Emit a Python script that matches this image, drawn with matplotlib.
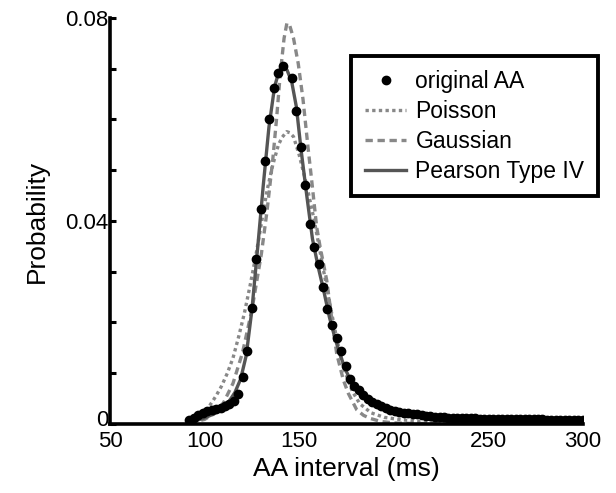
import numpy as np
import matplotlib
matplotlib.use("Agg")
import matplotlib.pyplot as plt
import matplotlib.transforms as mtransforms

plt.rcParams['font.family'] = ['Liberation Sans', 'DejaVu Sans']

# original AA histogram (dots)
aa_x = [91.9, 94.3, 96.6, 99.0, 101.4, 103.7, 106.1, 108.5, 110.8, 113.1,
        115.5, 117.8, 120.3, 122.6, 124.9, 127.2, 129.6, 131.9, 134.2, 136.7,
        139.0, 141.6, 146.0, 148.3, 150.7, 153.1, 155.7, 157.8, 160.3, 162.6,
        164.9, 167.4, 169.8, 172.1, 174.5, 176.8, 179.2, 181.6, 183.9, 186.3,
        188.7, 191.0, 193.4, 195.8, 198.1, 200.5, 202.9, 205.2, 207.6, 210.0,
        212.3, 214.7, 217.1, 219.4, 221.8, 224.2, 226.5, 228.9, 231.3, 233.6,
        236.0, 238.4, 240.7, 243.1, 245.5, 247.8, 250.2, 252.6, 254.9, 257.3,
        259.7, 262.0, 264.4, 266.8, 269.1, 271.5, 273.9, 276.2, 278.6, 281.0,
        283.3, 285.7, 288.1, 290.4, 292.8, 295.2, 297.5, 299.9]
aa_y = [0.0007, 0.0012, 0.0018, 0.0022, 0.0025, 0.0028, 0.0030, 0.0032, 0.0036, 0.0040,
        0.0046, 0.0060, 0.0092, 0.0144, 0.0228, 0.0326, 0.0424, 0.0518, 0.0600, 0.0662,
        0.0691, 0.0705, 0.0682, 0.0617, 0.0545, 0.0470, 0.0395, 0.0348, 0.0315, 0.0269,
        0.0227, 0.0195, 0.0169, 0.0144, 0.0115, 0.0088, 0.0075, 0.0066, 0.0057, 0.0049,
        0.0044, 0.0039, 0.0035, 0.0031, 0.0028, 0.0026, 0.0024, 0.0022, 0.0021, 0.0020,
        0.0019, 0.0017, 0.0016, 0.0015, 0.0014, 0.0014, 0.0013, 0.0012, 0.0012, 0.0012,
        0.0011, 0.0011, 0.0011, 0.0011, 0.0010, 0.0010, 0.0010, 0.0010, 0.0010, 0.0010,
        0.0009, 0.0009, 0.0009, 0.0009, 0.0009, 0.0009, 0.0009, 0.0009, 0.0009, 0.0008,
        0.0008, 0.0008, 0.0008, 0.0008, 0.0008, 0.0008, 0.0008, 0.0008]

# Poisson fit (dotted)
poi_x = [92, 95, 100, 103, 106, 109, 112, 115, 118, 121, 124, 127, 130, 133, 136,
         139, 141, 143.4, 145, 147, 150, 154, 158, 162, 166, 170, 174, 178, 182,
         188, 195, 205, 220, 300]
poi_y = [0.0003, 0.0008, 0.0025, 0.0038, 0.0055, 0.0075, 0.0100, 0.0130, 0.0172, 0.0218,
         0.0272, 0.0330, 0.0395, 0.0460, 0.0510, 0.0550, 0.0565, 0.0576, 0.0574, 0.0566,
         0.0530, 0.0470, 0.0400, 0.0320, 0.0240, 0.0165, 0.0105, 0.0065, 0.0040,
         0.0022, 0.0013, 0.0008, 0.0003, 0.0]

# Gaussian fit (dashed)
gau_x = [92, 100, 105, 110, 115, 120, 125, 130, 133, 136, 138, 140, 142, 143.5,
         145, 147, 149.5, 152, 154.8, 156.6, 159.2, 161, 164.5, 167.1, 169.8, 173.3,
         176, 180.4, 184, 187.5, 193, 200, 210, 300]
gau_y = [0.0002, 0.0009, 0.0020, 0.0042, 0.0080, 0.0140, 0.0225, 0.0335, 0.0420, 0.0520,
         0.0600, 0.0690, 0.0760, 0.0790, 0.0785, 0.0760, 0.0710, 0.0640, 0.0540, 0.0480,
         0.0389, 0.0350, 0.0284, 0.0211, 0.0139, 0.0087, 0.0060, 0.0028, 0.0017,
         0.0011, 0.0005, 0.0002, 0.0001, 0.0]

# Pearson Type IV fit (solid)
pea_x = [92, 100, 105, 110, 113, 116, 119, 122, 125, 128, 131, 134, 137, 139.5,
         141.5, 143.5, 146, 148.5, 151, 154, 157, 160, 163, 166, 169, 172, 175,
         178, 182, 186, 192, 200, 210, 225, 250, 300]
pea_y = [0.0003, 0.0012, 0.0020, 0.0032, 0.0045, 0.0062, 0.0088, 0.0135, 0.0225, 0.0345,
         0.0470, 0.0585, 0.0665, 0.0697, 0.0705, 0.0698, 0.0675, 0.0625, 0.0540, 0.0450,
         0.0365, 0.0310, 0.0262, 0.0210, 0.0168, 0.0132, 0.0103, 0.0079, 0.0059,
         0.0046, 0.0033, 0.0024, 0.0017, 0.0011, 0.0007, 0.0004]

fig = plt.figure(figsize=(6.16, 4.93), dpi=100)
ax = fig.add_axes([0.1786, 0.14, 0.7678, 0.8235])

ax.plot(aa_x, aa_y, 'o', color='black', markersize=6, label='original AA', zorder=4)
ax.plot(poi_x, poi_y, linestyle=(0, (1, 1)), color='#888888', lw=2.4, label='Poisson', zorder=2)
ax.plot(gau_x, gau_y, linestyle=(0, (2.2, 1.4)), color='#888888', lw=2.4, label='Gaussian', zorder=2)
ax.plot(pea_x, pea_y, '-', color='#555555', lw=2.4, label='Pearson Type IV', zorder=3)

ax.set_xlim(50, 300)
ax.set_ylim(0, 0.08)
ax.set_xticks([50, 100, 150, 200, 250, 300])
ax.set_yticks([0, 0.04, 0.08])
ax.set_yticklabels(['0', '0.04', '0.08'])
ax.set_yticks(np.arange(0, 0.081, 0.01), minor=True)

for s in ['top', 'right']:
    ax.spines[s].set_visible(False)
for s in ['left', 'bottom']:
    ax.spines[s].set_linewidth(2.6)

ax.tick_params(axis='y', which='both', direction='in', length=4, width=2.2, labelsize=16, pad=1)
ax.tick_params(axis='x', length=0, labelsize=16, pad=5)

# lift the "0" a little so it sits above the "50"
zero_lbl = ax.get_yticklabels()[0]
zero_lbl.set_transform(zero_lbl.get_transform() +
                       mtransforms.ScaledTranslation(0, 4 / 72, fig.dpi_scale_trans))

ax.set_xlabel('AA interval (ms)', fontsize=19, labelpad=4)
ax.set_ylabel('Probability', fontsize=19, labelpad=12)

leg = fig.legend(loc='upper right', bbox_to_anchor=(0.971, 0.886), fontsize=16.5,
                 fancybox=False, framealpha=1, edgecolor='black', handlelength=1.8,
                 handletextpad=0.4, borderpad=0.6, labelspacing=0.3, borderaxespad=0)
leg.get_frame().set_linewidth(2.8)

fig.savefig('out.png', dpi=100)
